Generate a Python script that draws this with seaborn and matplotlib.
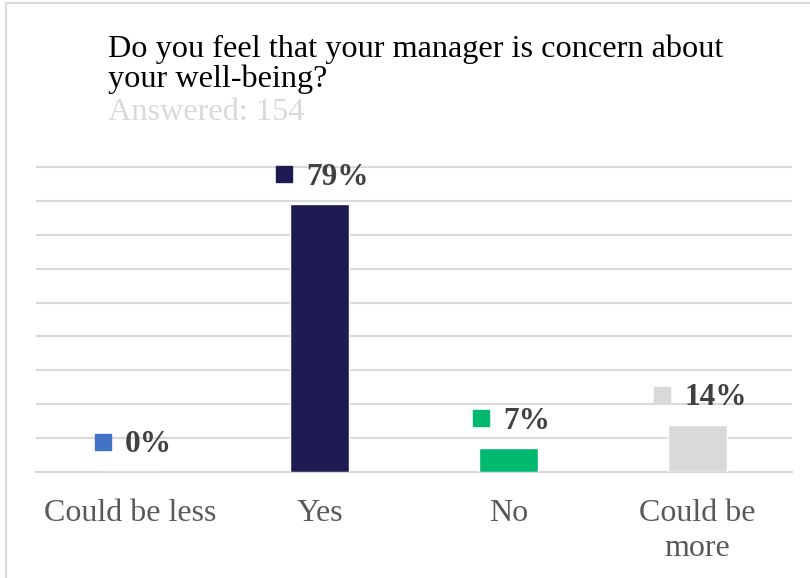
import matplotlib
matplotlib.use("Agg")
import matplotlib.pyplot as plt
import matplotlib.transforms as mtransforms
from matplotlib.lines import Line2D
import seaborn as sns
import pandas as pd

# Survey responses
categories = ["Could be less", "Yes", "No", "Could be\nmore"]
percentages = [0, 79, 7, 14]
bar_colors = ["#4472C4", "#1E1A52", "#00B96E", "#D9D9D9"]
title_lines = ["Do you feel that your manager is concern about", "your well-being?"]
subtitle = "Answered: 154"

df = pd.DataFrame({"answer": categories, "pct": percentages})

sns.set_theme(style="white")
plt.rcParams["font.family"] = ["Liberation Serif", "DejaVu Serif"]

DPI = 100
W, H = 810, 578
fig = plt.figure(figsize=(W / DPI, H / DPI), dpi=DPI)

# axes placement in pixels
ax_left, ax_right = 36, 792
ax_bottom_px = 472          # y of the zero line (from top)
px_per_pct = (472 - 167) / 90.0
y_top = 92
ax_top_px = ax_bottom_px - y_top * px_per_pct
ax = fig.add_axes([ax_left / W, (H - ax_bottom_px) / H,
                   (ax_right - ax_left) / W, (ax_bottom_px - ax_top_px) / H])

sns.barplot(data=df, x="answer", y="pct", hue="answer", palette=bar_colors,
            width=0.31, legend=False, ax=ax, saturation=1, zorder=3)

ax.set_xlim(-0.5, len(categories) - 0.5)
ax.set_ylim(0, y_top)
ax.set_yticks(range(0, 100, 10))
ax.yaxis.grid(True, color="#D9D9D9", linewidth=1.5, zorder=0)
ax.xaxis.grid(False)
ax.set_axisbelow(True)
for side in ["top", "right", "left"]:
    ax.spines[side].set_visible(False)
ax.spines["bottom"].set_color("#D9D9D9")
ax.spines["bottom"].set_linewidth(1.5)
ax.tick_params(axis="y", left=False, labelleft=False)
ax.tick_params(axis="x", bottom=False, pad=13.5, labelsize=23, labelcolor="#595959")
for lbl in ax.get_xticklabels():
    lbl.set_linespacing(1.28)
ax.set_xlabel("")
ax.set_ylabel("")

# value labels: colored square key + bold percentage
fig.canvas.draw()
renderer = fig.canvas.get_renderer()
for i, (v, c) in enumerate(zip(percentages, bar_colors)):
    txt = ax.annotate(f"{v}%", xy=(i, v), xytext=(18 * 72 / DPI, 27 * 72 / DPI),
                      textcoords="offset points", ha="center", va="center",
                      fontsize=22.5, fontweight="bold", color="#404040", zorder=5)
    bb = txt.get_window_extent(renderer)
    bar_x = ax.transData.transform((i, v))[0]
    dx = (bb.x0 - bar_x) - 22.5
    tr = mtransforms.offset_copy(ax.transData, fig=fig, x=dx, y=30, units="dots")
    ax.plot([i], [v], marker="s", markersize=16 * 72 / DPI, color=c,
            transform=tr, clip_on=False, zorder=5, linestyle="none")

# title block
fig.text(108 / W, 1 - 57 / H, title_lines[0], ha="left", va="baseline",
         fontsize=23.2, color="#000000")
fig.text(108 / W, 1 - 87 / H, title_lines[1], ha="left", va="baseline",
         fontsize=23.2, color="#000000")
fig.text(108 / W, 1 - 120 / H, subtitle, ha="left", va="baseline",
         fontsize=23.2, color="#D9D9D9")

# frame edges along the top and left
fig.add_artist(Line2D([6 / W, 6 / W], [0, 1 - 2.5 / H], transform=fig.transFigure,
                      color="#D9D9D9", linewidth=1.5))
fig.add_artist(Line2D([6 / W, 1], [1 - 2.5 / H, 1 - 2.5 / H], transform=fig.transFigure,
                      color="#D9D9D9", linewidth=1.5))

fig.savefig("out.png", dpi=DPI, facecolor="white")
